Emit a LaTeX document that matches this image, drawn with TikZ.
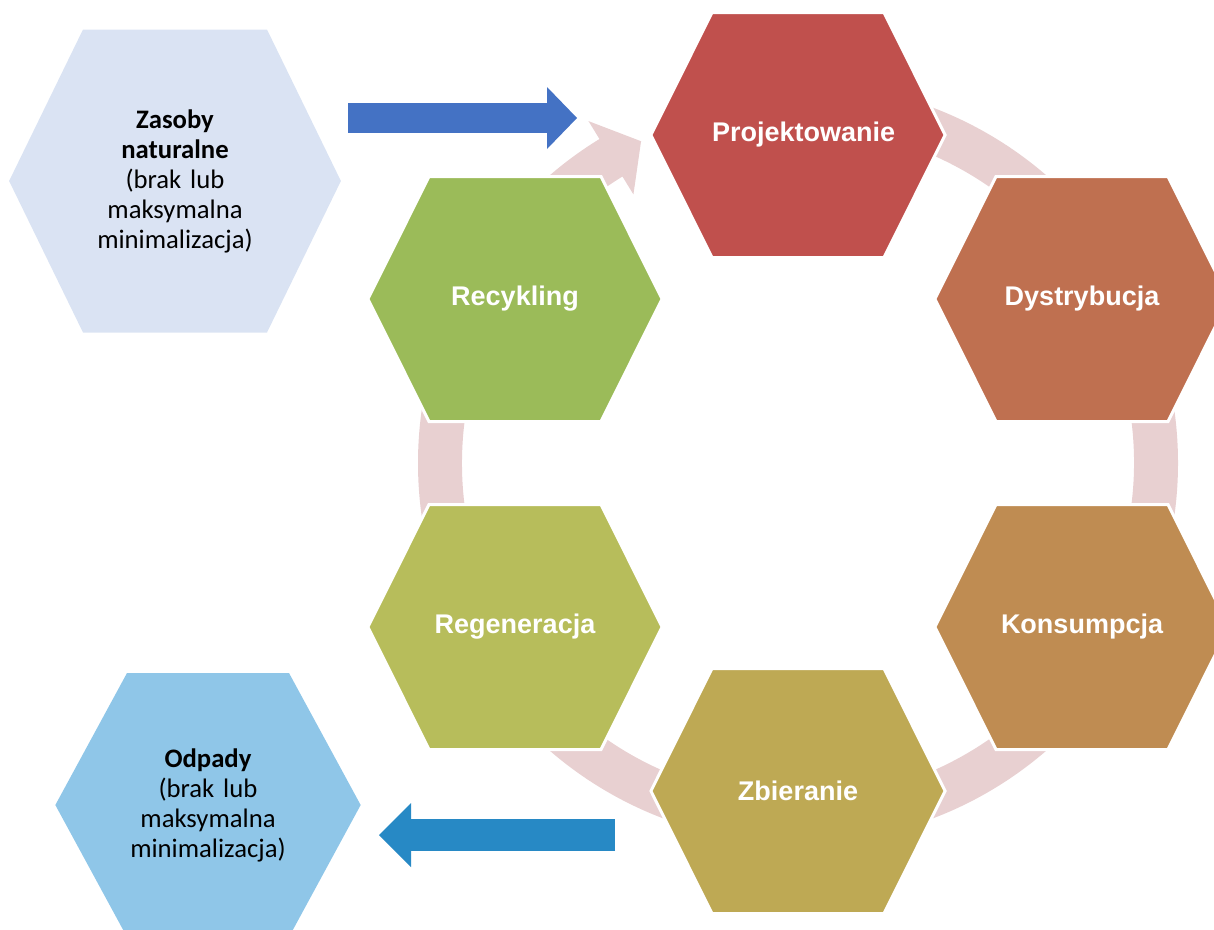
\documentclass[tikz,border=0pt]{standalone}
\usepackage{fontspec}
\setmainfont{Liberation Sans}
\newfontfamily\carlito{Carlito}
\usetikzlibrary{positioning,calc,arrows.meta,shapes.symbols}

\definecolor{projcol}{RGB}{192,80,77}
\definecolor{dystcol}{RGB}{191,112,80}
\definecolor{konscol}{RGB}{191,140,82}
\definecolor{zbiecol}{RGB}{190,169,84}
\definecolor{regecol}{RGB}{183,189,91}
\definecolor{recycol}{RGB}{155,187,89}
\definecolor{ringcol}{RGB}{232,208,209}
\definecolor{zascol}{RGB}{218,227,243}
\definecolor{odpcol}{RGB}{143,198,232}
\definecolor{incol}{RGB}{68,114,196}
\definecolor{outcol}{RGB}{39,137,197}

\begin{document}
\begin{tikzpicture}[x=1pt, y=1pt]
	\useasboundingbox (0,0) rectangle (1214,-929);
	\begin{scope}
		\tikzstyle{every node}=[align=center, inner sep=0pt]
		\tikzstyle{hexa}=[shape=signal, signal to=west and east, signal pointer angle=127, text width=172pt, minimum height=245pt, draw=white, line width=3pt, text=white, font=\bfseries\fontsize{27}{32}\selectfont]
		\tikzstyle{outer}=[shape=signal, signal to=west and east, font=\carlito\fontsize{26.7}{30}\selectfont]

		\coordinate (hub) at (798, -463);

		% circular arrow behind the cycle
		\fill [ringcol] ([shift={(90:380pt)}]hub) arc[start angle=90, end angle=-238.5, radius=380pt]
			-- ([shift={(-238.5:401pt)}]hub) -- ([shift={(-244:358pt)}]hub) -- ([shift={(-238.5:315pt)}]hub)
			-- ([shift={(-238.5:336pt)}]hub) arc[start angle=-238.5, end angle=90, radius=336pt] -- cycle;

		\node [hexa, fill=projcol] (proj) at (798, -135) {Projektowanie};
		\node [hexa, fill=dystcol] (dyst) at (1082, -299) {Dystrybucja};
		\node [hexa, fill=konscol] (kons) at (1082, -627) {Konsumpcja};
		\node [hexa, fill=zbiecol] (zbie) at (798, -791) {Zbieranie};
		\node [hexa, fill=regecol] (rege) at (515, -627) {Regeneracja};
		\node [hexa, fill=recycol] (recy) at (515, -299) {Recykling};

		\node [outer, fill=zascol, text width=184pt, minimum height=303pt, signal pointer angle=128] (zas) at (175, -181)
			{\textbf{Zasoby}\\\textbf{naturalne}\\(brak lub\\maksymalna\\minimalizacja)};
		\node [outer, fill=odpcol, text width=162pt, minimum height=264pt, signal pointer angle=123] (odp) at (208, -805)
			{\textbf{Odpady}\\(brak lub\\maksymalna\\minimalizacja)};

		\coordinate (inA) at (348, -118);
		\coordinate (inB) at (577, -118);
		\coordinate (outA) at (615, -835);
		\coordinate (outB) at (379, -835);

		\draw [incol, line width=30pt, -{Triangle[length=30pt, width=62pt, line width=0pt]}] (inA) to (inB);
		\draw [outcol, line width=32pt, -{Triangle[length=32pt, width=64pt, line width=0pt]}] (outA) to (outB);
	\end{scope}
\end{tikzpicture}
\end{document}
